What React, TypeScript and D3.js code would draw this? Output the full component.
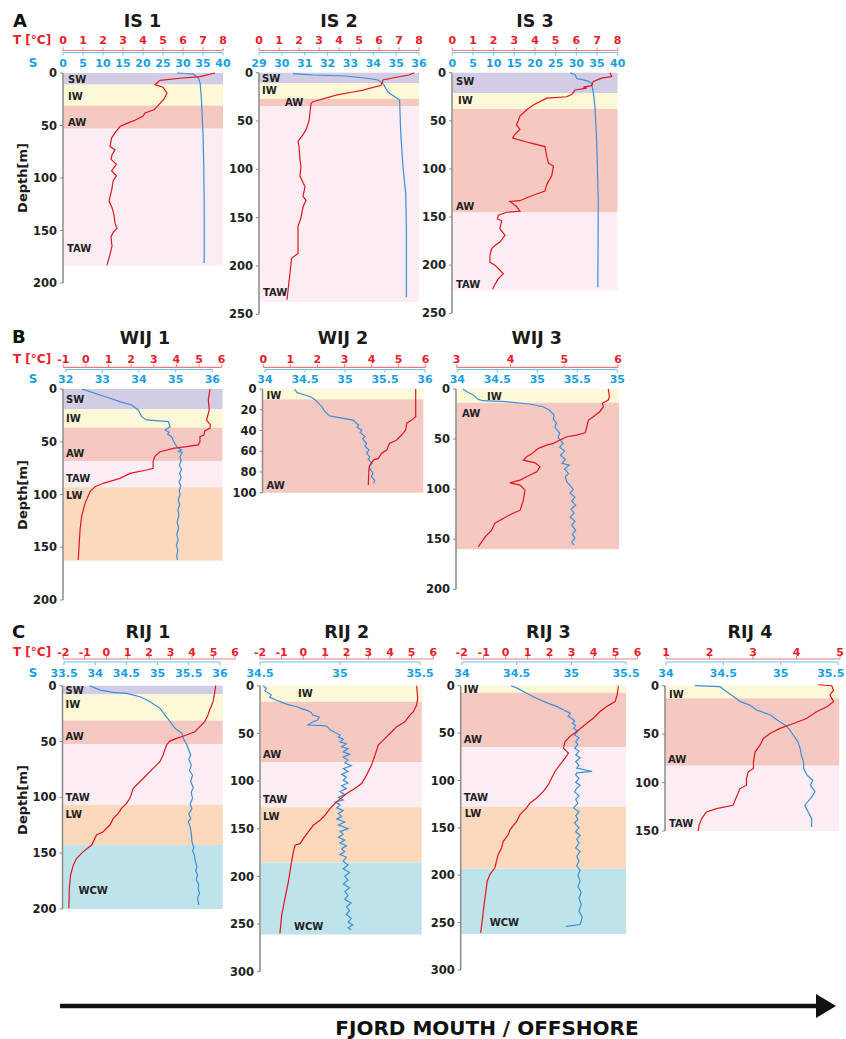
import React from 'react';
import * as d3 from 'd3';

type Pt = [number, number]; // [value, depth]
type Layer = [string, number, number]; // [water mass, top depth, bottom depth]

// ---- tick labels ----
const T_TICKS_0_8 = [0, 1, 2, 3, 4, 5, 6, 7, 8];
const S_TICKS_0_40 = [0, 5, 10, 15, 20, 25, 30, 35, 40];
const S_TICKS_29_36 = [29, 30, 31, 32, 33, 34, 35, 36];
const T_TICKS_WIJ1 = [-1, 0, 1, 2, 3, 4, 5, 6];
const S_TICKS_WIJ1 = [32, 33, 34, 35, 36];
const T_TICKS_WIJ2 = [0, 1, 2, 3, 4, 5, 6];
const S_TICKS_34_36 = [34, 34.5, 35, 35.5, 36];
const T_TICKS_WIJ3 = [3, 4, 5, 6];
const S_LABELS_WIJ3 = ['34', '34.5', '35', '35.5', '35'];
const T_TICKS_M2_6 = [-2, -1, 0, 1, 2, 3, 4, 5, 6];
const S_TICKS_RIJ1 = [33.5, 34, 34.5, 35, 35.5, 36];
const S_TICKS_RIJ2 = [34.5, 35, 35.5];
const S_TICKS_34_355 = [34, 34.5, 35, 35.5];
const T_TICKS_RIJ4 = [1, 2, 3, 4, 5];

// ---- water mass layers ----
const IS1_LAYERS: Layer[] = [['SW', 0, 11], ['IW', 11, 31], ['AW', 31, 53], ['TAW', 53, 183.5]];
const IS2_LAYERS: Layer[] = [['SW', 0, 11], ['IW', 11, 27], ['AW', 27, 34.5], ['TAW', 34.5, 237]];
const IS3_LAYERS: Layer[] = [['SW', 0, 21.4], ['IW', 21.4, 37.7], ['AW', 37.7, 145.3], ['TAW', 145.3, 226]];
const WIJ1_LAYERS: Layer[] = [['SW', 0, 19.3], ['IW', 19.3, 36.7], ['AW', 36.7, 68.2], ['TAW', 68.2, 93.2], ['LW', 93.2, 162.7]];
const WIJ2_LAYERS: Layer[] = [['IW', 0, 10], ['AW', 10, 100]];
const WIJ3_LAYERS: Layer[] = [['IW', 0, 13.7], ['AW', 13.7, 160]];
const RIJ1_LAYERS: Layer[] = [['SW', 0, 7.8], ['IW', 7.8, 31.3], ['AW', 31.3, 52.2], ['TAW', 52.2, 106.8], ['LW', 106.8, 142.6], ['WCW', 142.6, 200]];
const RIJ2_LAYERS: Layer[] = [['IW', 0, 16.8], ['AW', 16.8, 80.4], ['TAW', 80.4, 127.6], ['LW', 127.6, 185.3], ['WCW', 185.3, 261]];
const RIJ3_LAYERS: Layer[] = [['IW', 0, 7.4], ['AW', 7.4, 65], ['TAW', 65, 128], ['LW', 128, 193], ['WCW', 193, 262]];
const RIJ4_LAYERS: Layer[] = [['IW', 0, 13], ['AW', 13, 82.6], ['TAW', 82.6, 150]];

// ---- temperature / salinity profiles ----
const IS1_T: Pt[] = [[7.6, 0], [6.85, 3.5], [5.85, 5], [4.85, 7], [4.6, 11], [4.75, 12], [5.0, 13.5], [5.2, 19], [5.05, 25], [4.7, 32], [4.55, 35], [4.1, 38], [4.0, 41], [3.6, 45], [3.2, 48], [2.85, 51], [2.6, 57], [2.43, 62], [2.35, 70], [2.6, 73], [2.45, 78], [2.4, 82], [2.67, 87], [2.43, 93], [2.67, 98], [2.5, 103], [2.45, 110], [2.35, 118], [2.3, 122], [2.45, 128], [2.55, 135], [2.6, 143], [2.7, 148], [2.5, 152], [2.4, 156], [2.45, 165], [2.35, 173], [2.2, 183]];
const IS1_S: Pt[] = [[28.5, 0], [31, 0.5], [32.6, 1], [33.9, 5], [34.3, 10], [34.6, 25], [35.0, 57], [35.2, 90], [35.3, 130], [35.3, 181]];
const IS2_T: Pt[] = [[7.76, 0], [7.5, 2.4], [6.8, 5], [6.2, 7.5], [6.1, 13], [5.2, 18], [4.7, 20], [3.9, 23], [2.7, 30], [2.6, 32], [2.5, 50], [2.35, 59], [2.2, 64], [1.95, 71], [2.0, 76], [2.05, 90], [2.1, 97], [2.05, 107], [2.3, 118], [2.2, 128], [2.35, 132], [2.2, 139], [2.1, 150], [1.95, 159], [1.95, 187], [1.63, 192], [1.55, 207], [1.4, 235]];
const IS2_S: Pt[] = [[30.49, 1], [31.36, 2.4], [32.8, 3.4], [33.8, 6], [34.2, 7.5], [34.42, 11], [34.64, 20], [34.94, 25], [35.15, 28], [35.2, 62], [35.25, 80], [35.3, 97], [35.35, 110], [35.42, 125], [35.45, 166], [35.45, 232]];
const IS3_T: Pt[] = [[7.63, 0], [7.71, 4], [7.22, 5.7], [6.82, 9], [6.74, 13.5], [6.34, 15], [6.5, 16], [5.94, 18], [5.77, 22.6], [5.53, 25], [4.57, 26.5], [3.92, 33.6], [3.6, 38.5], [3.27, 45], [3.19, 50], [3.1, 54], [3.27, 59], [3.03, 64], [2.92, 68], [3.76, 73], [4.48, 76.8], [4.57, 87], [4.65, 94], [4.89, 97], [4.81, 107], [4.57, 116], [4.48, 123], [4.08, 126], [3.6, 130], [3.27, 133], [2.79, 133.7], [3.1, 138.7], [3.27, 144], [2.63, 145], [2.23, 148], [2.18, 152], [2.39, 153.6], [2.3, 162], [2.55, 169], [2.3, 176], [2.06, 179.5], [1.9, 183], [1.82, 190], [1.82, 197], [2.06, 200], [2.3, 205], [2.47, 209], [2.23, 214], [2.06, 220], [1.95, 225]];
const IS3_S: Pt[] = [[28.5, 0], [29.7, 2.4], [30.1, 6], [31.7, 7.5], [32.9, 9], [33.7, 11], [34.1, 21], [34.5, 35], [34.9, 70], [35.3, 132], [35.2, 223]];

const WIJ1_T: Pt[] = [[5.48, 0], [5.41, 10.4], [5.45, 19.9], [5.33, 29.4], [5.5, 34], [5.48, 37.3], [5.26, 39.5], [5.21, 43.6], [5.04, 45.2], [5.04, 50], [4.96, 53], [4.45, 54.7], [3.86, 56.3], [3.27, 59.5], [3.04, 64], [2.97, 68.8], [2.97, 75.2], [2.68, 76.8], [1.95, 80], [1.5, 84.7], [0.77, 89.4], [0.4, 92.6], [0.18, 97.4], [-0.04, 108.4], [-0.19, 121], [-0.26, 133.7], [-0.34, 162]];
const WIJ1_S: Pt[] = [[32.44, 0], [32.66, 2.5], [32.94, 5.7], [33.21, 8.8], [33.48, 12], [33.8, 15.2], [33.98, 19.9], [34.07, 26.2], [34.21, 29.3], [34.8, 30.9], [34.85, 35.7], [34.71, 38.8], [34.82, 41], [34.78, 43], [34.89, 45.2], [34.95, 50], [35.03, 54.7], [35.16, 57.8], [35.08, 59], [35.18, 60], [35.12, 64], [35.15, 68], [35.1, 72], [35.16, 76], [35.11, 80], [35.15, 84], [35.09, 88], [35.14, 92], [35.1, 96], [35.12, 100], [35.07, 105], [35.11, 110], [35.06, 114.6], [35.09, 120], [35.04, 126], [35.08, 132], [35.03, 138], [35.07, 143], [35.02, 148], [35.06, 153], [35.03, 158], [35.05, 162]];
const WIJ2_T: Pt[] = [[5.63, 0], [5.63, 26.7], [5.48, 30], [5.3, 33], [5.26, 39.5], [5.11, 44.4], [4.93, 49.2], [4.66, 52.4], [4.56, 58.8], [4.37, 62], [4.25, 66.9], [4.07, 68.5], [3.94, 73.3], [3.9, 78.1], [3.88, 92.6]];
const WIJ2_S: Pt[] = [[34.37, 0], [34.4, 3.5], [34.5, 5.8], [34.58, 8], [34.63, 10.6], [34.67, 13.8], [34.71, 17], [34.75, 21.9], [34.81, 26], [34.98, 28.3], [35.1, 30], [35.17, 34.7], [35.15, 37], [35.21, 39.5], [35.19, 42], [35.25, 45.9], [35.22, 48], [35.27, 52.4], [35.25, 55], [35.3, 58.8], [35.27, 62], [35.31, 65.3], [35.29, 68], [35.34, 71.7], [35.3, 75], [35.32, 78.1], [35.35, 81], [35.33, 84.5], [35.37, 88], [35.36, 91]];
const WIJ3_T: Pt[] = [[5.82, 0], [5.84, 7.7], [5.82, 11], [5.71, 14.3], [5.73, 17.7], [5.66, 22.7], [5.54, 27.7], [5.45, 31], [5.42, 37.7], [5.39, 43.7], [5.23, 46], [5.05, 47.7], [4.92, 51], [4.8, 54.3], [4.67, 56], [4.52, 59.3], [4.39, 65], [4.3, 67.7], [4.24, 71], [4.46, 73.7], [4.55, 77.7], [4.49, 82.7], [4.3, 87.7], [4.18, 91], [3.99, 93.7], [4.18, 96], [4.27, 101], [4.24, 111], [4.18, 121], [4.05, 124], [3.87, 129], [3.71, 134], [3.65, 141], [3.53, 147.7], [3.4, 157.7]];
const WIJ3_S: Pt[] = [[34.07, 0], [34.12, 2.7], [34.2, 6], [34.26, 10.3], [34.32, 11.7], [34.61, 12.7], [34.9, 15], [35.07, 17.7], [35.15, 21], [35.21, 26], [35.2, 30], [35.24, 34.3], [35.22, 38], [35.28, 44.3], [35.26, 48], [35.32, 54.3], [35.28, 58], [35.34, 62], [35.29, 66], [35.35, 70], [35.31, 74.3], [35.4, 76], [35.34, 80], [35.39, 84.3], [35.35, 88], [35.37, 92.7], [35.45, 100], [35.41, 104], [35.47, 108], [35.43, 112], [35.48, 116], [35.42, 120], [35.46, 124], [35.41, 127.7], [35.47, 132], [35.43, 136], [35.48, 141], [35.44, 145], [35.47, 149], [35.43, 153], [35.46, 156]];

const RIJ1_T: Pt[] = [[5.1, 0], [5.07, 3.9], [5.02, 9.9], [4.98, 14.3], [4.82, 21.8], [4.74, 26.3], [4.59, 32.2], [4.36, 36.7], [4.13, 41.2], [3.74, 44.2], [3.28, 47.2], [2.96, 49.6], [2.81, 53.1], [2.65, 62.1], [2.5, 68.1], [2.19, 74], [1.88, 80], [1.57, 86], [1.26, 92], [1.1, 100.9], [0.95, 105.4], [0.71, 109.9], [0.56, 114.4], [0.33, 118.9], [0.17, 124.8], [-0.14, 130.8], [-0.45, 133.7], [-0.68, 142.7], [-1.07, 148.6], [-1.38, 154.6], [-1.53, 160.5], [-1.66, 169.5], [-1.72, 181.4], [-1.74, 199.4]];
const RIJ1_S: Pt[] = [[33.91, 0], [34.08, 3.9], [34.29, 6], [34.5, 6.9], [34.72, 9.9], [34.88, 14.3], [35.04, 20.3], [35.12, 26.3], [35.2, 32.2], [35.28, 38.2], [35.39, 42.7], [35.41, 47.2], [35.46, 52], [35.49, 56.1], [35.53, 62], [35.5, 66], [35.54, 71], [35.51, 76], [35.56, 80], [35.53, 85.9], [35.57, 91], [35.54, 96], [35.56, 100.9], [35.52, 106], [35.55, 110], [35.5, 115], [35.53, 119], [35.49, 121.8], [35.52, 126], [35.54, 132], [35.55, 139.6], [35.58, 145], [35.56, 148], [35.59, 151.6], [35.6, 156], [35.63, 162], [35.61, 166], [35.64, 169.5], [35.62, 174], [35.66, 178], [35.65, 181.4], [35.67, 186], [35.64, 190], [35.66, 196.4]];
const RIJ2_T: Pt[] = [[5.23, 0], [5.28, 13.3], [5.23, 20.3], [5.08, 27.3], [4.92, 30.8], [4.69, 37.8], [4.31, 43], [4.08, 48.3], [3.77, 55.3], [3.46, 62.3], [3.31, 72.8], [3.15, 83.3], [2.92, 93.8], [2.69, 102.6], [2.38, 107.9], [2.0, 113.1], [1.54, 121.9], [1.23, 128.9], [1.0, 135.9], [0.77, 141.2], [0.46, 146.4], [0.23, 153.4], [0.0, 160.4], [-0.15, 165.7], [-0.38, 167.4], [-0.46, 174.4], [-0.57, 188.4], [-0.69, 205.9], [-0.85, 223.4], [-1.0, 240.9], [-1.08, 260]];
const RIJ2_S: Pt[] = [[34.52, 0], [34.54, 2.8], [34.53, 5], [34.57, 9.8], [34.56, 12], [34.6, 15], [34.63, 17], [34.67, 19.6], [34.73, 22.1], [34.76, 24], [34.79, 25.6], [34.82, 28], [34.83, 30.8], [34.87, 33], [34.86, 36.1], [34.83, 38], [34.8, 41.3], [34.9, 41.8], [34.92, 43], [34.94, 46.6], [34.97, 49], [35.0, 51.8], [34.99, 54], [35.02, 56], [35.0, 58.8], [35.04, 61], [35.01, 64], [35.05, 66], [35.02, 69.3], [35.06, 72], [35.02, 75], [35.05, 78], [35.03, 81], [35.07, 84], [35.02, 87], [35.05, 90], [35.01, 93], [35.04, 96], [35.02, 99], [35.05, 102], [35.01, 105], [35.04, 108], [35.0, 111], [35.03, 114], [34.99, 117], [35.02, 120], [34.97, 122], [35.0, 125], [34.98, 128], [35.02, 131], [34.99, 134], [35.01, 137], [34.98, 140], [35.03, 143], [34.99, 146], [35.05, 150], [35.0, 153], [35.02, 156], [34.99, 159], [35.03, 162], [35.0, 165], [35.04, 168], [35.01, 171], [35.03, 174], [35.0, 177], [35.04, 180], [35.02, 184], [35.05, 188], [35.02, 192], [35.06, 196], [35.03, 200], [35.05, 204], [35.02, 208], [35.06, 212], [35.03, 216], [35.05, 220], [35.03, 224], [35.07, 228], [35.04, 232], [35.06, 236], [35.04, 240], [35.07, 244], [35.05, 248], [35.08, 251], [35.05, 254], [35.07, 256]];
const RIJ3_T: Pt[] = [[5.12, 0], [5.07, 9.8], [4.97, 16.8], [4.59, 22], [4.29, 27.3], [3.98, 34.3], [3.6, 41.3], [3.23, 48.3], [2.92, 53.6], [2.7, 58.9], [2.62, 65.9], [2.85, 71.1], [2.7, 76.4], [2.47, 83.4], [2.24, 90.5], [2.09, 97.5], [1.94, 104.5], [1.71, 111.5], [1.41, 118.5], [1.11, 123.8], [0.95, 129], [0.65, 136.1], [0.5, 143.1], [0.2, 151.9], [0.12, 157.1], [-0.11, 164.2], [-0.19, 171.2], [-0.34, 178.2], [-0.42, 185.2], [-0.49, 192.2], [-0.72, 199.3], [-0.84, 206.3], [-0.9, 216.8], [-0.98, 230.9], [-1.05, 244.9], [-1.14, 260.7]];
const RIJ3_S: Pt[] = [[34.45, 0], [34.51, 2.8], [34.59, 8], [34.68, 13.3], [34.79, 18.6], [34.87, 22.1], [34.93, 25.6], [34.99, 29.1], [34.97, 32], [35.0, 34.4], [35.03, 37], [35.01, 39.6], [35.04, 42], [35.02, 44.9], [35.06, 48], [35.03, 51.9], [35.07, 55], [35.04, 58.9], [35.06, 62], [35.03, 66], [35.07, 69], [35.04, 72.9], [35.08, 76], [35.04, 80], [35.07, 84], [35.05, 87], [35.19, 90.5], [35.05, 92], [35.04, 94], [35.07, 98], [35.04, 102], [35.08, 105], [35.05, 108], [35.03, 112], [35.07, 116], [35.04, 120], [35.06, 124], [35.02, 129], [35.07, 133], [35.04, 137], [35.06, 141], [35.03, 145], [35.07, 150], [35.04, 154], [35.08, 158], [35.05, 162], [35.07, 166], [35.04, 171.2], [35.08, 175], [35.05, 180], [35.07, 185], [35.05, 190], [35.08, 195], [35.06, 200], [35.08, 206], [35.06, 212], [35.09, 218], [35.07, 224], [35.09, 231], [35.07, 238], [35.1, 244], [35.09, 248.6], [35.08, 252], [34.95, 253.9]];
const RIJ4_T: Pt[] = [[4.5, -1], [4.81, 0], [4.85, 4.5], [4.77, 9.6], [4.81, 13], [4.85, 16.5], [4.7, 21.7], [4.46, 26.9], [4.23, 33.8], [3.93, 39], [3.62, 44.1], [3.39, 49.3], [3.24, 54.5], [3.16, 61.4], [3.05, 68.3], [3.01, 78.6], [3.01, 85.5], [2.89, 89], [2.85, 95.8], [2.85, 102.7], [2.7, 106.2], [2.62, 114.8], [2.54, 123.4], [2.16, 126.9], [1.93, 130.3], [1.82, 137.2], [1.76, 144.1], [1.74, 150]];
const RIJ4_S: Pt[] = [[34.25, 0], [34.47, 1], [34.53, 6.2], [34.59, 11.4], [34.65, 16.5], [34.73, 20], [34.79, 25.1], [34.91, 30.3], [34.97, 35.5], [35.04, 40.7], [35.08, 45.8], [35.12, 52.7], [35.15, 57.9], [35.17, 64.8], [35.18, 71.7], [35.2, 78.6], [35.2, 85.5], [35.23, 92.4], [35.28, 97.6], [35.26, 102.7], [35.3, 109.6], [35.26, 116.5], [35.21, 123.4], [35.24, 130.3], [35.27, 137.2], [35.27, 145.9]];

// ---- styling ----
const FONT = '"DejaVu Sans", Verdana, sans-serif';
const RED = '#e8202a';
const BLUE_TXT = '#1a9fe0';
const T_LINE = '#e3141c';
const S_LINE = '#3d8fd9';
const LAYER_COLORS: Record<string, string> = {
  SW: '#d2cce4',
  IW: '#fdf8d6',
  AW: '#f6c8c2',
  TAW: '#fbedf3',
  LW: '#fcd8bc',
  WCW: '#bee3ea',
};

const ROWS = {
  A: { tLab: 44, red: 50.5, blue: 52.5, sLab: 66.7, title: 27, depthMid: 178 },
  B: { tLab: 363.3, red: 367.3, blue: 369.5, sLab: 383.3, title: 343.5, depthMid: 495 },
  C: { tLab: 655.5, red: 659, blue: 662, sLab: 677.3, title: 637.7, depthMid: 800 },
};

interface PanelCfg {
  title: string;
  titleX: number;
  row: keyof typeof ROWS;
  axisX: number;
  bandRight: number;
  y0: number;
  y1: number;
  depthMax: number;
  depthStep: number;
  tDomain: [number, number];
  tRange: [number, number];
  tTicks: number[];
  sDomain: [number, number];
  sRange: [number, number];
  sTicks: number[];
  sLabels?: string[];
  layers: Layer[];
  labelPos: Record<string, [number, number]>; // dx from axis, depth
  t: Pt[];
  s: Pt[];
  first?: boolean;
}

const PANELS: PanelCfg[] = [
  { title: 'IS 1', titleX: 142.5, row: 'A', axisX: 63, bandRight: 223, y0: 73, y1: 283, depthMax: 200, depthStep: 50,
    tDomain: [0, 8], tRange: [63, 223], tTicks: T_TICKS_0_8, sDomain: [0, 40], sRange: [63, 223], sTicks: S_TICKS_0_40,
    layers: IS1_LAYERS, labelPos: { SW: [5, 6], IW: [5, 22.5], AW: [5, 47], TAW: [4, 167] }, t: IS1_T, s: IS1_S, first: true },
  { title: 'IS 2', titleX: 339, row: 'A', axisX: 259, bandRight: 419, y0: 72.7, y1: 314.3, depthMax: 250, depthStep: 50,
    tDomain: [0, 8], tRange: [259, 419], tTicks: T_TICKS_0_8, sDomain: [29, 36], sRange: [259, 419], sTicks: S_TICKS_29_36,
    layers: IS2_LAYERS, labelPos: { SW: [3, 6.5], IW: [3, 18.6], AW: [26, 31], TAW: [4, 227.5] }, t: IS2_T, s: IS2_S },
  { title: 'IS 3', titleX: 535, row: 'A', axisX: 452, bandRight: 617.5, y0: 72.7, y1: 313.3, depthMax: 250, depthStep: 50,
    tDomain: [0, 8], tRange: [452.3, 617.7], tTicks: T_TICKS_0_8, sDomain: [0, 40], sRange: [452.3, 617.7], sTicks: S_TICKS_0_40,
    layers: IS3_LAYERS, labelPos: { SW: [4, 9.3], IW: [6, 29.4], AW: [4, 139], TAW: [4, 220] }, t: IS3_T, s: IS3_S },

  { title: 'WIJ 1', titleX: 145, row: 'B', axisX: 63, bandRight: 222.5, y0: 389, y1: 600, depthMax: 200, depthStep: 50,
    tDomain: [-1, 6], tRange: [63.3, 221.7], tTicks: T_TICKS_WIJ1, sDomain: [32, 36], sRange: [65.7, 212.3], sTicks: S_TICKS_WIJ1,
    layers: WIJ1_LAYERS, labelPos: { SW: [3, 10.4], IW: [3, 27.8], AW: [3, 61], TAW: [3, 84.7], LW: [3, 101.4] }, t: WIJ1_T, s: WIJ1_S, first: true },
  { title: 'WIJ 2', titleX: 343, row: 'B', axisX: 262.5, bandRight: 423.3, y0: 389, y1: 492.7, depthMax: 100, depthStep: 20,
    tDomain: [0, 6], tRange: [263.3, 425.7], tTicks: T_TICKS_WIJ2, sDomain: [34, 36], sRange: [265, 425], sTicks: S_TICKS_34_36,
    layers: WIJ2_LAYERS, labelPos: { IW: [4, 5.8], AW: [4, 93] }, t: WIJ2_T, s: WIJ2_S },
  { title: 'WIJ 3', titleX: 536.7, row: 'B', axisX: 456, bandRight: 619, y0: 389, y1: 589.3, depthMax: 200, depthStep: 50,
    tDomain: [3, 6], tRange: [456.7, 618], tTicks: T_TICKS_WIJ3, sDomain: [34, 36], sRange: [457.3, 617.3], sTicks: S_TICKS_34_36, sLabels: S_LABELS_WIJ3,
    layers: WIJ3_LAYERS, labelPos: { IW: [31, 7], AW: [6, 24] }, t: WIJ3_T, s: WIJ3_S },

  { title: 'RIJ 1', titleX: 148, row: 'C', axisX: 62.5, bandRight: 222.7, y0: 685.7, y1: 909, depthMax: 200, depthStep: 50,
    tDomain: [-2, 6], tRange: [63.3, 235], tTicks: T_TICKS_M2_6, sDomain: [33.5, 36], sRange: [64, 220], sTicks: S_TICKS_RIJ1,
    layers: RIJ1_LAYERS, labelPos: { SW: [3, 3.9], IW: [3, 16.7], AW: [3, 45.6], TAW: [3, 100], LW: [3, 115.7], WCW: [16, 183.8] }, t: RIJ1_T, s: RIJ1_S, first: true },
  { title: 'RIJ 2', titleX: 346.7, row: 'C', axisX: 260, bandRight: 421.7, y0: 685.7, y1: 971.7, depthMax: 300, depthStep: 50,
    tDomain: [-2, 6], tRange: [260, 433.3], tTicks: T_TICKS_M2_6, sDomain: [34.5, 35.5], sRange: [260, 420], sTicks: S_TICKS_RIJ2,
    layers: RIJ2_LAYERS, labelPos: { IW: [38, 8.7], AW: [3, 72], TAW: [3, 119], LW: [3, 137.5], WCW: [34, 252.9] }, t: RIJ2_T, s: RIJ2_S },
  { title: 'RIJ 3', titleX: 548.3, row: 'C', axisX: 460.7, bandRight: 626, y0: 685.7, y1: 970, depthMax: 300, depthStep: 50,
    tDomain: [-2, 6], tRange: [461.7, 637.7], tTicks: T_TICKS_M2_6, sDomain: [34, 35.5], sRange: [462, 626], sTicks: S_TICKS_34_355,
    layers: RIJ3_LAYERS, labelPos: { IW: [3, 3.5], AW: [3, 57], TAW: [3, 118], LW: [4, 135], WCW: [29, 250] }, t: RIJ3_T, s: RIJ3_S },
  { title: 'RIJ 4', titleX: 750, row: 'C', axisX: 665, bandRight: 839.3, y0: 685.7, y1: 831, depthMax: 150, depthStep: 50,
    tDomain: [1, 5], tRange: [666, 840], tTicks: T_TICKS_RIJ4, sDomain: [34, 35.5], sRange: [666, 838], sTicks: S_TICKS_34_355,
    layers: RIJ4_LAYERS, labelPos: { IW: [4, 8.6], AW: [3, 75.7], TAW: [4, 142] }, t: RIJ4_T, s: RIJ4_S },
];

const PAGE_W = 846;

const Panel: React.FC<{ cfg: PanelCfg }> = ({ cfg }) => {
  const row = ROWS[cfg.row];
  const y = d3.scaleLinear().domain([0, cfg.depthMax]).range([cfg.y0, cfg.y1]);
  const xT = d3.scaleLinear().domain(cfg.tDomain).range(cfg.tRange);
  const xS = d3.scaleLinear().domain(cfg.sDomain).range(cfg.sRange);
  const lineT = d3.line<Pt>().x(d => xT(d[0])).y(d => y(d[1]));
  const lineS = d3.line<Pt>().x(d => xS(d[0])).y(d => y(d[1]));
  const depthTicks = d3.range(0, cfg.depthMax + 0.01, cfg.depthStep);

  return (
    <g>
      <text x={cfg.titleX} y={row.title} textAnchor="middle" fontSize={17.5} fontWeight="bold" fill="#1a1a1a">{cfg.title}</text>

      {/* temperature axis (top, red) */}
      <line x1={cfg.tRange[0]} x2={cfg.tRange[1]} y1={row.red} y2={row.red} stroke="#ee7a80" strokeWidth={1.2} />
      {cfg.tTicks.map(v => (
        <g key={'t' + v}>
          <line x1={xT(v)} x2={xT(v)} y1={row.red} y2={row.red - 3} stroke="#ee7a80" strokeWidth={1} />
          <text x={xT(v)} y={row.tLab} textAnchor="middle" fontSize={11} fontWeight="bold" fill={RED}>{v}</text>
        </g>
      ))}

      {/* salinity axis (top, blue) */}
      <line x1={cfg.sRange[0]} x2={cfg.sRange[1]} y1={row.blue} y2={row.blue} stroke="#6fbfe8" strokeWidth={1.2} />
      {cfg.sTicks.map((v, i) => {
        const label = cfg.sLabels ? cfg.sLabels[i] : String(v);
        // keep the last label inside the page
        const lx = Math.min(xS(v), PAGE_W - 2 - label.length * 3.3);
        return (
          <g key={'s' + v}>
            <line x1={xS(v)} x2={xS(v)} y1={row.blue} y2={row.blue + 3} stroke="#6fbfe8" strokeWidth={1} />
            <text x={lx} y={row.sLab} textAnchor="middle" fontSize={11} fontWeight="bold" fill={BLUE_TXT}>{label}</text>
          </g>
        );
      })}

      {/* water mass layers */}
      {cfg.layers.map(([name, top, bot]) => (
        <rect key={name} x={cfg.axisX + 0.5} y={y(top)} width={cfg.bandRight - cfg.axisX - 0.5} height={y(bot) - y(top)} fill={LAYER_COLORS[name]} />
      ))}
      {cfg.layers.map(([name]) => {
        const p = cfg.labelPos[name];
        return (
          <text key={'l' + name} x={cfg.axisX + p[0]} y={y(p[1])} dy="0.35em" fontSize={10} fontWeight="bold" fill="#222">{name}</text>
        );
      })}

      {/* depth axis */}
      <line x1={cfg.axisX} x2={cfg.axisX} y1={cfg.y0} y2={cfg.y1} stroke="#8a8a8a" strokeWidth={1.5} />
      {depthTicks.map(v => (
        <g key={'d' + v}>
          <line x1={cfg.axisX - 3} x2={cfg.axisX} y1={y(v)} y2={y(v)} stroke="#8a8a8a" strokeWidth={1} />
          <text x={cfg.axisX - 6} y={y(v)} dy="0.36em" textAnchor="end" fontSize={11.5} fontWeight="bold" fill="#222">{v}</text>
        </g>
      ))}

      {/* profiles */}
      <path d={lineS(cfg.s) ?? ''} fill="none" stroke={S_LINE} strokeWidth={1.2} />
      <path d={lineT(cfg.t) ?? ''} fill="none" stroke={T_LINE} strokeWidth={1.2} />

      {cfg.first && (
        <g>
          <text x={13} y={row.tLab} fontSize={12} fontWeight="bold" fill={RED}>T [°C]</text>
          <text x={33} y={row.sLab} textAnchor="middle" fontSize={12} fontWeight="bold" fill={BLUE_TXT}>S</text>
          <text transform={`translate(27,${row.depthMid}) rotate(-90)`} textAnchor="middle" fontSize={13} fontWeight="bold" fill="#1a1a1a">Depth[m]</text>
        </g>
      )}
    </g>
  );
};

export default function App() {
  return (
    <svg width={846} height={1039} style={{ position: 'absolute', left: 0, top: 0, background: '#fff' }} fontFamily={FONT}>
      <rect width={846} height={1039} fill="#fff" />
      <text x={13} y={27} fontSize={18} fontWeight="bold" fill="#111">A</text>
      <text x={12} y={343} fontSize={18} fontWeight="bold" fill="#111">B</text>
      <text x={12} y={638} fontSize={18} fontWeight="bold" fill="#111">C</text>
      {PANELS.map(p => <Panel key={p.title} cfg={p} />)}

      {/* direction arrow */}
      <line x1={60} x2={820} y1={1006} y2={1006} stroke="#111" strokeWidth={4.5} />
      <path d="M816,994 L836,1006 L816,1018 Z" fill="#111" />
      <text x={487} y={1035} textAnchor="middle" fontSize={20} fontWeight="bold" fill="#111">FJORD MOUTH / OFFSHORE</text>
    </svg>
  );
}
